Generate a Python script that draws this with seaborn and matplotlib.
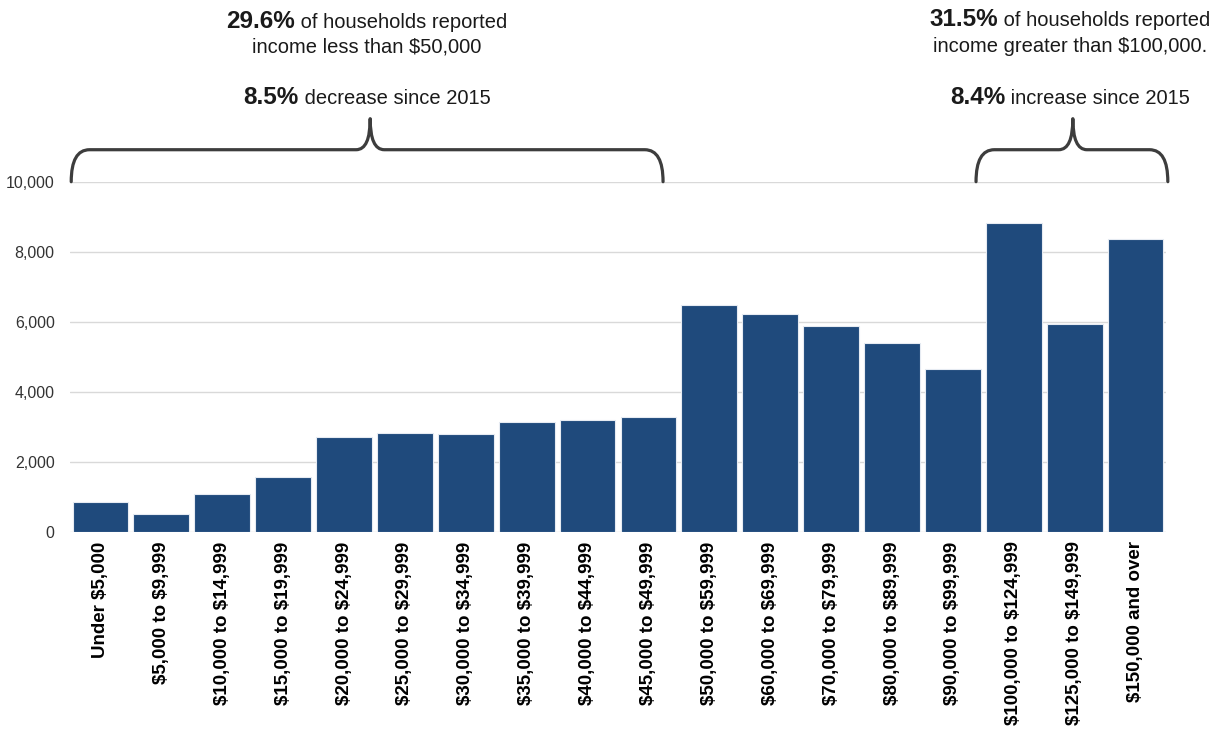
import matplotlib
matplotlib.use("Agg")
import matplotlib.pyplot as plt
from matplotlib.path import Path
from matplotlib.patches import PathPatch
from matplotlib.offsetbox import TextArea, HPacker, AnnotationBbox
import seaborn as sns
import pandas as pd

# Household income distribution
categories = [
    "Under $5,000", "$5,000 to $9,999", "$10,000 to $14,999", "$15,000 to $19,999",
    "$20,000 to $24,999", "$25,000 to $29,999", "$30,000 to $34,999", "$35,000 to $39,999",
    "$40,000 to $44,999", "$45,000 to $49,999", "$50,000 to $59,999", "$60,000 to $69,999",
    "$70,000 to $79,999", "$80,000 to $89,999", "$90,000 to $99,999", "$100,000 to $124,999",
    "$125,000 to $149,999", "$150,000 and over",
]
households = [857, 497, 1086, 1560, 2705, 2810, 2781, 3143, 3181, 3286,
              6486, 6229, 5867, 5381, 4648, 8810, 5933, 8362]
y_ticks = [0, 2000, 4000, 6000, 8000, 10000]

low_note = [("29.6%", " of households reported"), ("", "income less than $50,000"),
            ("8.5%", " decrease since 2015")]
high_note = [("31.5%", " of households reported"), ("", "income greater than $100,000."),
             ("8.4%", " increase since 2015")]

BAR_COLOR = "#1f4a7c"
BRACE_COLOR = "#3d3d3d"

sns.set_theme(style="white")
plt.rcParams["font.family"] = ["Liberation Sans", "DejaVu Sans"]
plt.rcParams["text.parse_math"] = False

df = pd.DataFrame({"bracket": categories, "households": households})

fig = plt.figure(figsize=(12.28, 7.36), dpi=100)
ax = fig.add_axes([70 / 1228, 1 - 531.7 / 736, (1166 - 70) / 1228, 350 / 736])

sns.barplot(data=df, x="bracket", y="households", color=BAR_COLOR, saturation=1,
            width=0.915, edgecolor="#e6ebf2", linewidth=0.8, ax=ax, zorder=3)

ax.set_xlim(-0.5, len(categories) - 0.5)
ax.set_ylim(0, 10000)
ax.set_yticks(y_ticks)
ax.set_yticklabels([f"{v:,}" for v in y_ticks])
ax.yaxis.grid(True, color="#d9d9d9", linewidth=1.0, zorder=0)
ax.set_axisbelow(True)
for s in ax.spines.values():
    s.set_visible(False)
ax.set_xlabel("")
ax.set_ylabel("")
ax.tick_params(axis="y", length=0, pad=11, labelsize=11.5, labelcolor="#333333")
ax.tick_params(axis="x", length=0, pad=7)
ax.set_xticks(range(len(categories)))
ax.set_xticklabels(categories, rotation=90, fontsize=13.5, fontweight="bold",
                   color="black", va="top", ha="center")


def brace(x0, x1, xm, y_tip=10000, y_bar=10914, y_peak=11800, r=0.3, c=0.23):
    verts = [
        (x0, y_tip), (x0, y_bar), (x0 + r, y_bar),
        (xm - c, y_bar),
        (xm, y_bar), (xm, y_peak),
        (xm, y_bar), (xm + c, y_bar),
        (x1 - r, y_bar),
        (x1, y_bar), (x1, y_tip),
    ]
    codes = [Path.MOVETO, Path.CURVE3, Path.CURVE3,
             Path.LINETO,
             Path.CURVE3, Path.CURVE3,
             Path.CURVE3, Path.CURVE3,
             Path.LINETO,
             Path.CURVE3, Path.CURVE3]
    patch = PathPatch(Path(verts, codes), facecolor="none", edgecolor=BRACE_COLOR,
                      linewidth=2.3, capstyle="round", joinstyle="round", clip_on=False)
    ax.add_patch(patch)


brace(-0.48, 9.24, 4.43)
brace(14.38, 17.53, 15.97)


def note_line(bold, regular, fx, fy):
    parts = []
    if bold:
        parts.append(TextArea(bold, textprops=dict(fontsize=17.5, fontweight="bold",
                                                   color="#1a1a1a")))
    parts.append(TextArea(regular, textprops=dict(fontsize=14.5, color="#1a1a1a")))
    box = HPacker(children=parts, align="baseline", pad=0, sep=0)
    ab = AnnotationBbox(box, (fx, fy), xycoords="figure fraction", frameon=False,
                        box_alignment=(0.5, 0.5), pad=0)
    fig.add_artist(ab)


line_y = [21, 47, 98]
for (b, r), yy in zip(low_note, line_y):
    note_line(b, r, 367 / 1228, 1 - yy / 736)
for (b, r), yy in zip(high_note, line_y):
    note_line(b, r, 1070 / 1228, 1 - (yy - 1) / 736)

fig.savefig("out.png", dpi=100)
